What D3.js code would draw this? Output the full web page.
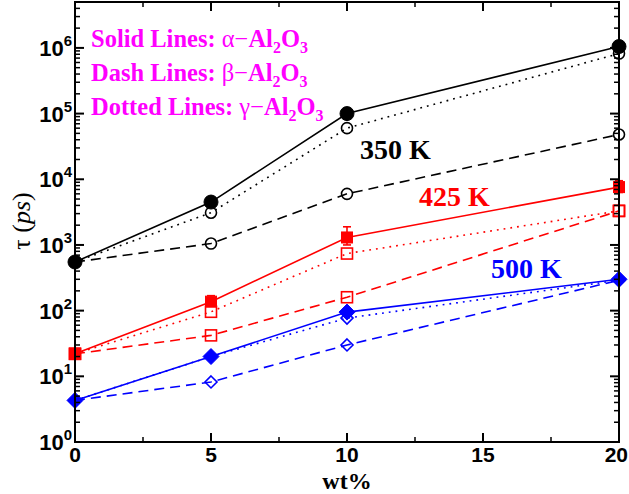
<!DOCTYPE html>
<html><head><meta charset="utf-8">
<script src="https://cdn.jsdelivr.net/npm/d3@7"></script>
<style>body{margin:0;background:#fff}svg{display:block}</style>
</head><body>
<svg id="c" width="629" height="494"></svg>
<script>
// ---- data ----
const wt = [0, 5, 10, 20];
const xTicksMajor = [0, 5, 10, 15, 20];
const xTicksMinor = [2.5, 7.5, 12.5, 17.5];
const yDecades = [0, 1, 2, 3, 4, 5, 6];

const t350_alpha = [550, 4500, 100000, 1050000];
const t350_beta  = [550, 1050, 6000, 48000];
const t350_gamma = [550, 3100, 60000, 820000];

const t425_alpha = [22, 137, 1300, 7600];
const t425_beta  = [22, 42, 160, 3300];
const t425_gamma = [22, 96, 740, 3300];
const t425_alpha_errLo = [22, 119, 1000, 6300];
const t425_alpha_errHi = [22, 169, 1890, 9500];

const t500_alpha = [4.3, 20, 95, 300];
const t500_beta  = [4.3, 8.2, 30, 290];
const t500_gamma = [4.3, 20, 77, 290];

const tempLabels = ["350 K", "425 K", "500 K"];
const colors = ["#000000", "#ff0000", "#0000ff"];

// ---- chart ----
const svg = d3.select("#c");
const W = 629;
const x = d3.scaleLinear().domain([0, 20]).range([75, 619]);
const y = d3.scaleLog().domain([1, 5e6]).range([442, 2]);

const series = [
  {v: t350_beta,  c: 0, style: "dash",  m: "circle", fill: false},
  {v: t350_gamma, c: 0, style: "dot",   m: "circle", fill: false},
  {v: t350_alpha, c: 0, style: "solid", m: "circle", fill: true},
  {v: t425_beta,  c: 1, style: "dash",  m: "square", fill: false},
  {v: t425_gamma, c: 1, style: "dot",   m: "square", fill: false},
  {v: t425_alpha, c: 1, style: "solid", m: "square", fill: true, lo: t425_alpha_errLo, hi: t425_alpha_errHi},
  {v: t500_beta,  c: 2, style: "dash",  m: "diamond", fill: false},
  {v: t500_gamma, c: 2, style: "dot",   m: "diamond", fill: false},
  {v: t500_alpha, c: 2, style: "solid", m: "diamond", fill: true},
];

const line = d3.line().x((d, i) => x(wt[i])).y(d => y(d));
const dashes = {solid: null, dash: "10,6", dot: "1.8,5"};

series.forEach(s => {
  svg.append("path").datum(s.v).attr("d", line)
    .attr("fill", "none").attr("stroke", colors[s.c]).attr("stroke-width", 1.6)
    .attr("stroke-dasharray", dashes[s.style]);
});

// error bars
series.filter(s => s.lo).forEach(s => {
  s.v.forEach((d, i) => {
    if (s.hi[i] === s.lo[i]) return;
    const g = svg.append("g").attr("stroke", colors[s.c]).attr("stroke-width", 1.6);
    const cx = x(wt[i]);
    g.append("line").attr("x1", cx).attr("x2", cx).attr("y1", y(s.lo[i])).attr("y2", y(s.hi[i]));
    g.append("line").attr("x1", cx - 4).attr("x2", cx + 4).attr("y1", y(s.hi[i])).attr("y2", y(s.hi[i]));
    g.append("line").attr("x1", cx - 4).attr("x2", cx + 4).attr("y1", y(s.lo[i])).attr("y2", y(s.lo[i]));
  });
});

// markers (open first, filled on top)
function marker(s, cx, cy) {
  const col = colors[s.c];
  let el;
  if (s.m === "circle") {
    el = svg.append("circle").attr("cx", cx).attr("cy", cy).attr("r", s.fill ? 7 : 5.5);
  } else if (s.m === "square") {
    const h = 5.5;
    el = svg.append("rect").attr("x", cx - h).attr("y", cy - h).attr("width", 2 * h).attr("height", 2 * h);
  } else {
    const h = s.fill ? 8 : 6;
    el = svg.append("path").attr("d", `M${cx},${cy - h}L${cx + h},${cy}L${cx},${cy + h}L${cx - h},${cy}Z`);
  }
  if (s.fill) el.attr("fill", col).attr("stroke", col).attr("stroke-width", 1);
  else el.attr("fill", "none").attr("stroke", col).attr("stroke-width", 1.6);
}
series.filter(s => !s.fill).forEach(s => s.v.forEach((d, i) => marker(s, x(wt[i]), y(d))));
series.filter(s => s.fill).forEach(s => s.v.forEach((d, i) => marker(s, x(wt[i]), y(d))));

// frame
const X0 = x(0), X1 = x(20), Y0 = y(1), Y1 = y(5e6);
const ax = svg.append("g").attr("stroke", "#000").attr("stroke-width", 2);
ax.append("rect").attr("x", X0).attr("y", Y1).attr("width", X1 - X0).attr("height", Y0 - Y1).attr("fill", "none");

// x ticks
xTicksMajor.forEach(t => {
  ax.append("line").attr("x1", x(t)).attr("x2", x(t)).attr("y1", Y0).attr("y2", Y0 - 9);
  ax.append("line").attr("x1", x(t)).attr("x2", x(t)).attr("y1", Y1).attr("y2", Y1 + 9);
});
xTicksMinor.forEach(t => {
  ax.append("line").attr("x1", x(t)).attr("x2", x(t)).attr("y1", Y0).attr("y2", Y0 - 5).attr("stroke-width", 1.5);
  ax.append("line").attr("x1", x(t)).attr("x2", x(t)).attr("y1", Y1).attr("y2", Y1 + 5).attr("stroke-width", 1.5);
});
// y ticks
yDecades.forEach(d => {
  const v = Math.pow(10, d);
  ax.append("line").attr("x1", X0).attr("x2", X0 + 9).attr("y1", y(v)).attr("y2", y(v));
  ax.append("line").attr("x1", X1).attr("x2", X1 - 9).attr("y1", y(v)).attr("y2", y(v));
  for (let k = 2; k <= 9; k++) {
    const m = k * v;
    if (m > 5e6) break;
    ax.append("line").attr("x1", X0).attr("x2", X0 + 5).attr("y1", y(m)).attr("y2", y(m)).attr("stroke-width", 1.5);
    ax.append("line").attr("x1", X1).attr("x2", X1 - 5).attr("y1", y(m)).attr("y2", y(m)).attr("stroke-width", 1.5);
  }
});

// tick labels
const sans = "'Liberation Sans', Arial, sans-serif";
const serif = "'Liberation Serif', 'Times New Roman', serif";
xTicksMajor.forEach(t => {
  const txt = svg.append("text").attr("x", x(t)).attr("y", 462).attr("text-anchor", "middle")
    .attr("font-family", sans).attr("font-weight", "bold").attr("font-size", 21).text(t);
  const bb = txt.node().getBBox();
  if (bb.x + bb.width > W - 1) txt.attr("text-anchor", "end").attr("x", W - 1);
});
yDecades.forEach(d => {
  const t = svg.append("text").attr("x", 72).attr("y", y(Math.pow(10, d)) + 8).attr("text-anchor", "end")
    .attr("font-family", sans).attr("font-weight", "bold").attr("font-size", 22);
  t.append("tspan").text("10");
  t.append("tspan").attr("font-size", 15).attr("dy", -10).text(d);
});

// axis titles
svg.append("text").attr("x", 347).attr("y", 489).attr("text-anchor", "middle")
  .attr("font-family", serif).attr("font-weight", "bold").attr("font-size", 24).text("wt%");
const yl = svg.append("text").attr("transform", "translate(30,221) rotate(-90)").attr("text-anchor", "middle")
  .attr("font-family", serif).attr("font-size", 26);
yl.append("tspan").text("τ (");
yl.append("tspan").attr("font-style", "italic").text("ps");
yl.append("tspan").text(")");

// temperature labels
const tempPos = [[360, 159], [419, 206], [491, 278]];
tempLabels.forEach((s, i) => {
  svg.append("text").attr("x", tempPos[i][0]).attr("y", tempPos[i][1])
    .attr("font-family", serif).attr("font-weight", "bold").attr("font-size", 28)
    .attr("fill", colors[i]).text(s);
});

// legend
const legend = [["Solid Lines: ", "α"], ["Dash Lines: ", "β"], ["Dotted Lines: ", "γ"]];
legend.forEach((l, i) => {
  const t = svg.append("text").attr("x", 91).attr("y", 47 + i * 34)
    .attr("font-family", serif).attr("font-weight", "bold").attr("font-size", 24.5).attr("fill", "#ff00ff");
  t.append("tspan").text(l[0]);
  t.append("tspan").attr("font-weight", "normal").text(l[1] + "\u2212");
  t.append("tspan").text("Al");
  t.append("tspan").attr("font-size", 16).attr("dy", 6).text("2");
  t.append("tspan").attr("dy", -6).text("O");
  t.append("tspan").attr("font-size", 16).attr("dy", 6).text("3");
});
</script>
</body></html>
